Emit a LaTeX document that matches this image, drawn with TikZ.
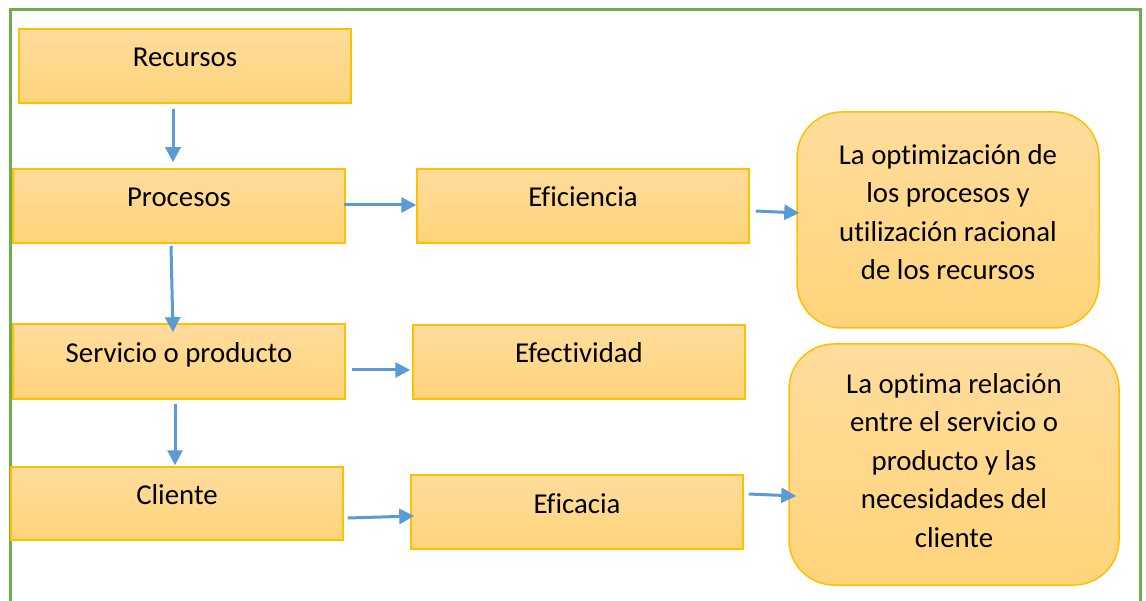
\documentclass[tikz,border=0pt]{standalone}
\usepackage{fontspec}
\setmainfont{Carlito}[Ligatures=CommonOff]
\usetikzlibrary{arrows.meta,calc}
\definecolor{boxedge}{HTML}{FFC000}
\definecolor{boxtop}{HTML}{FFDC9C}
\definecolor{boxbot}{HTML}{FFD47A}
\definecolor{arrowblue}{HTML}{5B9BD5}
\definecolor{frameg}{HTML}{70AD47}
\tikzset{
  box/.style={rectangle, draw=boxedge, line width=1.5pt, top color=boxtop, bottom color=boxbot, minimum width=332pt, minimum height=74pt, inner sep=0pt},
  rbox/.style={rectangle, rounded corners=45pt, draw=boxedge, line width=1.5pt, top color=boxtop, bottom color=boxbot, inner sep=0pt},
  lbl/.style={font=\fontsize{28.8}{38.5}\selectfont, inner sep=0pt, text=black},
  mlbl/.style={lbl, align=center},
  arr/.style={draw=arrowblue, line width=3pt, -{Triangle[length=15pt,width=15pt]}},
}
\begin{document}
\begin{tikzpicture}[x=1pt,y=-1pt]
\useasboundingbox (0,0) rectangle (1146,601);
\draw[frameg, line width=3pt] (10,605) -- (10,10) -- (1140,10) -- (1140,605);
% left column
\node[box] (rec) at (185,66) {};
\node[box] (proc) at (179,206) {};
\node[box, minimum height=75pt] (serv) at (179,361.5) {};
\node[box, minimum height=73pt] (cli) at (177,503.5) {};
% middle column
\node[box] (efi) at (583,206) {};
\node[box] (efe) at (579,362) {};
\node[box] (efa) at (577,512) {};
% right rounded boxes
\node[rbox, minimum width=302pt, minimum height=216pt] (r1) at (948,220) {};
\node[rbox, minimum width=330pt, minimum height=241pt] (r2) at (954,464.5) {};
% labels
\node[lbl, anchor=base] (trec) at ($(rec.north)+(0,38)$) {Recursos};
\node[lbl, anchor=base] (tproc) at ($(proc.north)+(0,38)$) {Procesos};
\node[lbl, anchor=base] (tserv) at ($(serv.north)+(0,39)$) {Servicio o producto};
\node[lbl, anchor=base] (tcli) at ($(cli.north)+(0,38)$) {Cliente};
\node[lbl, anchor=base] (tefi) at ($(efi.north)+(0,38)$) {Eficiencia};
\node[lbl, anchor=base] (tefe) at ($(efe.north)+(0,38)$) {Efectividad};
\node[lbl, anchor=base] (tefa) at ($(efa.north)+(0,39)$) {Eficacia};
\node[mlbl] (tr1) at ($(r1.center)+(0,-8)$) {La optimización de\\los procesos y\\utilización racional\\de los recursos};
\node[mlbl] (tr2) at ($(r2.center)+(0,-4)$) {La optima relación\\entre el servicio o\\producto y las\\necesidades del\\cliente};
% connectors
\draw[arr] ($(rec.south)+(-12,5)$) -- ($(proc.north)+(-6,-6)$);
\draw[arr] ($(proc.south)+(-8,2)$) -- ($(serv.north)+(-6,9)$);
\draw[arr] ($(serv.south)+(-4,4)$) -- ($(cli.north)+(-2,-1)$);
\draw[arr] ($(proc.east)+(-2,-1)$) -- ($(efi.west)+(0,-1)$);
\draw[arr] ($(efi.east)+(6,5)$) -- ($(r1.west)+(3,-7)$);
\draw[arr] ($(serv.east)+(6,8.5)$) -- ($(efe.west)+(-2,8)$);
\draw[arr] ($(cli.east)+(4,14.5)$) -- ($(efa.west)+(4,4)$);
\draw[arr] ($(efa.east)+(5,-18)$) -- ($(r2.west)+(8,31.5)$);
\end{tikzpicture}
\end{document}
